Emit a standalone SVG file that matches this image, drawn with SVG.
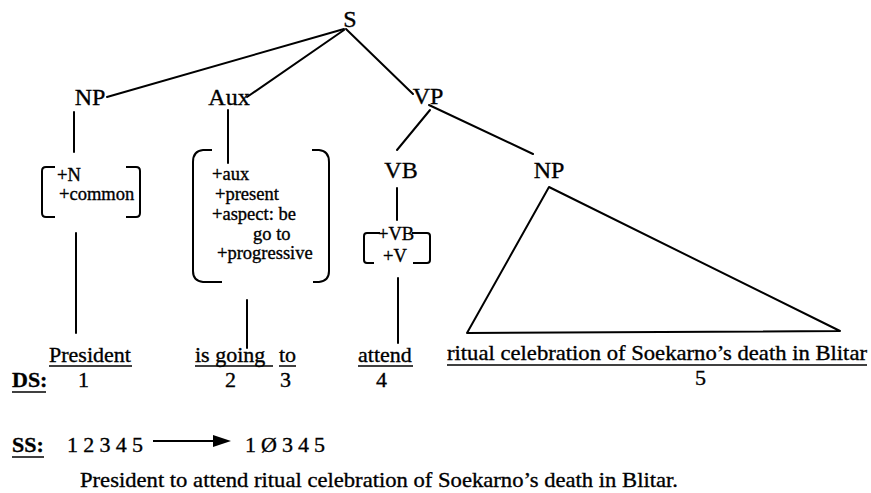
<svg xmlns="http://www.w3.org/2000/svg" width="871" height="493" viewBox="0 0 871 493">
<style>
text{font-family:"Liberation Serif","Times New Roman",serif;fill:#000;stroke:#000;stroke-width:0.35px}
.lab{font-size:24px;text-anchor:middle}
.ft{font-size:18.5px}
.w{font-size:22px}
.b{font-size:22px;font-weight:bold}
.ln{stroke:#000;stroke-width:2;fill:none;stroke-linecap:round}
.br{stroke:#000;stroke-width:2;fill:none}
.ul{stroke:#000;stroke-width:1.5}
</style>
<rect width="871" height="493" fill="#fff"/>
<g id="connectors">
<line class="ln" x1="344" y1="29" x2="107" y2="97"/>
<line class="ln" x1="344" y1="30" x2="247" y2="97"/>
<line class="ln" x1="346" y1="29" x2="413" y2="94"/>
<line class="ln" x1="430" y1="110" x2="397" y2="150"/>
<line class="ln" x1="429" y1="105" x2="533" y2="154"/>
<line class="ln" x1="74" y1="112" x2="74" y2="152"/>
<line class="ln" x1="228" y1="110" x2="228" y2="163"/>
<line class="ln" x1="397" y1="188" x2="397" y2="220"/>
<line class="ln" x1="76" y1="233" x2="76" y2="333"/>
<line class="ln" x1="247" y1="300" x2="247" y2="348"/>
<line class="ln" x1="398" y1="278" x2="398" y2="343"/>
</g>
<g id="S"><text class="lab" x="350" y="27">S</text></g>
<g id="NP1"><text class="lab" x="90" y="105">NP</text></g>
<g id="Aux"><text class="lab" x="229" y="105">Aux</text></g>
<g id="VP"><text class="lab" x="428" y="104">VP</text></g>
<g id="VB"><text class="lab" x="401" y="178">VB</text></g>
<g id="NP2"><text class="lab" x="549" y="178">NP</text></g>
<g id="np-features">
<path class="br" d="M55,167 H46 Q42,167 42,171 V213 Q42,217 46,217 H55"/>
<path class="br" d="M126,167 H136 Q140,167 140,171 V213 Q140,217 136,217 H126"/>
<text class="ft" x="57" y="181">+N</text>
<text class="ft" x="59" y="200">+common</text>
</g>
<g id="aux-features">
<path class="br" d="M212,150 H203 Q193,151 193,162 V271 Q193,281 203,282 H222"/>
<path class="br" d="M312,150 H319 Q329,151 329,162 V271 Q329,281 319,282 H313"/>
<text class="ft" x="212" y="180">+aux</text>
<text class="ft" x="215" y="200">+present</text>
<text class="ft" x="212" y="220">+aspect: be</text>
<text class="ft" x="253" y="240">go to</text>
<text class="ft" x="217" y="259">+progressive</text>
</g>
<g id="vb-features">
<path class="br" d="M380,233 H367 Q364,233 364,236 V260 Q364,263 367,263 H374"/>
<path class="br" d="M412,233 H427 Q430,233 430,236 V260 Q430,263 427,263 H413"/>
<text class="ft" x="378" y="240">+VB</text>
<text class="ft" x="383" y="262">+V</text>
</g>
<g id="NP2-triangle">
<polygon class="ln" points="549,187 467,333 840,331" stroke-linejoin="round"/>
</g>
<g id="DS">
<text class="w" x="49" y="362">President</text>
<line class="ul" x1="49" y1="366" x2="132" y2="366"/>
<text class="w" x="195" y="362">is going</text>
<line class="ul" x1="195" y1="366" x2="273" y2="366"/>
<text class="w" x="279" y="362">to</text>
<line class="ul" x1="279" y1="366" x2="296" y2="366"/>
<text class="w" x="358" y="362">attend</text>
<line class="ul" x1="358" y1="366" x2="413" y2="366"/>
<text class="w" x="447" y="360" textLength="420" lengthAdjust="spacingAndGlyphs">ritual celebration of Soekarno’s death in Blitar</text>
<line class="ul" x1="447" y1="365" x2="867" y2="365"/>
<text class="b" x="12" y="387">DS:</text>
<line class="ul" x1="12" y1="392" x2="46" y2="392"/>
<text class="w" x="78" y="387">1</text>
<text class="w" x="225" y="387">2</text>
<text class="w" x="280" y="387">3</text>
<text class="w" x="376" y="387">4</text>
<text class="w" x="695" y="385">5</text>
</g>
<g id="SS">
<text class="b" x="12" y="452">SS:</text>
<line class="ul" x1="12" y1="457" x2="44" y2="457"/>
<text class="w" x="67" y="452" textLength="76">1 2 3 4 5</text>
<line x1="153" y1="441" x2="216" y2="441" stroke="#000" stroke-width="2"/>
<polygon points="213,435 231,441 213,447" fill="#000"/>
<text class="w" x="245" y="452" textLength="80">1 Ø 3 4 5</text>
<text class="w" x="80" y="487" textLength="598" lengthAdjust="spacingAndGlyphs">President to attend ritual celebration of Soekarno’s death in Blitar.</text>
</g>
</svg>
